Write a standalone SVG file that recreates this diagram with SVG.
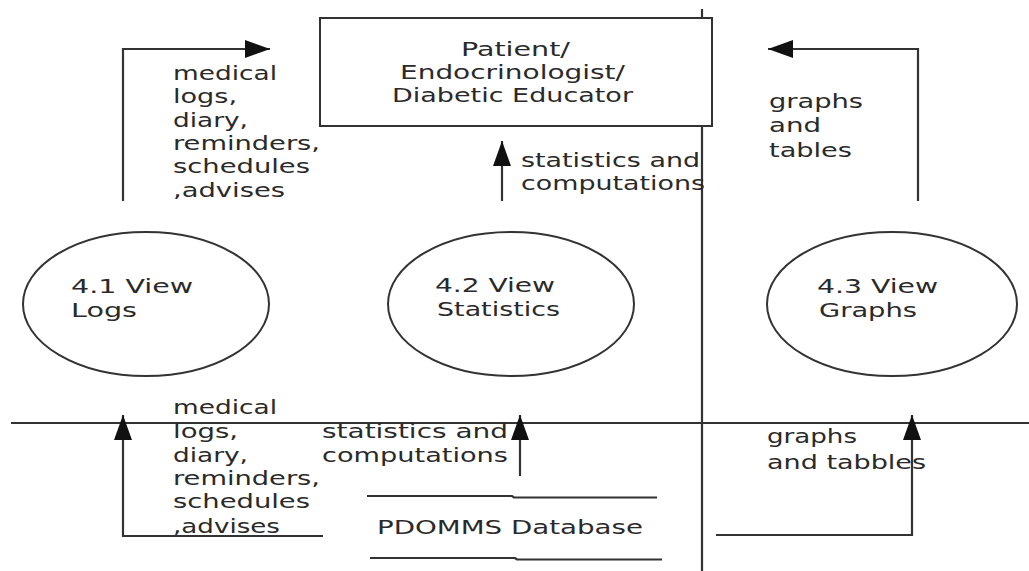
<svg xmlns="http://www.w3.org/2000/svg" width="1029" height="571" viewBox="0 0 1029 571">
<style>
.ln{fill:none;stroke:#333;stroke-width:2.2}
.nd{fill:#fff;stroke:#333;stroke-width:2}
text{font-family:"DejaVu Sans","Verdana",sans-serif;font-size:20px;fill:#2a2a2a}
</style>
<defs>
<marker id="ah" markerUnits="userSpaceOnUse" markerWidth="26" markerHeight="20" refX="25" refY="10" orient="auto">
<path d="M0,1 L25,10 L0,19 z" fill="#111"/>
</marker>
</defs>
<rect width="1029" height="571" fill="#fff"/>
<g id="boundaries">
<line class="ln" x1="702" y1="9" x2="702" y2="571"/>
<line class="ln" x1="11" y1="423" x2="1029" y2="423"/>
</g>
<g id="entity">
<rect class="nd" x="320" y="18" width="392" height="108"/>
<text x="461" y="56" textLength="109" lengthAdjust="spacingAndGlyphs">Patient/</text>
<text x="400" y="79" textLength="225" lengthAdjust="spacingAndGlyphs">Endocrinologist/</text>
<text x="392" y="102" textLength="241" lengthAdjust="spacingAndGlyphs">Diabetic Educator</text>
</g>
<g id="p41">
<ellipse class="nd" cx="146" cy="304" rx="123" ry="72"/>
<text x="71" y="293" textLength="122" lengthAdjust="spacingAndGlyphs">4.1 View</text>
<text x="71" y="317" textLength="66" lengthAdjust="spacingAndGlyphs">Logs</text>
</g>
<g id="p42">
<ellipse class="nd" cx="511" cy="304" rx="123" ry="72"/>
<text x="435" y="292" textLength="120" lengthAdjust="spacingAndGlyphs">4.2 View</text>
<text x="437" y="316" textLength="123" lengthAdjust="spacingAndGlyphs">Statistics</text>
</g>
<g id="p43">
<ellipse class="nd" cx="892" cy="304" rx="125" ry="72"/>
<text x="817" y="293" textLength="121" lengthAdjust="spacingAndGlyphs">4.3 View</text>
<text x="819" y="317" textLength="98" lengthAdjust="spacingAndGlyphs">Graphs</text>
</g>
<g id="datastore">
<polyline class="ln" points="367,496 512,496 514,497.5 657,497.5"/>
<polyline class="ln" points="370,558 515,558 517,559.5 662,559.5"/>
<text x="377" y="534" textLength="266" lengthAdjust="spacingAndGlyphs">PDOMMS Database</text>
</g>
<g id="connectors">
<polyline class="ln" points="123,201 123,49 270,49" marker-end="url(#ah)"/>
<line class="ln" x1="502" y1="201" x2="502" y2="141" marker-end="url(#ah)"/>
<polyline class="ln" points="918,201 918,49 768,49" marker-end="url(#ah)"/>
<polyline class="ln" points="323,536 123,536 123,415" marker-end="url(#ah)"/>
<line class="ln" x1="520" y1="476" x2="520" y2="415" marker-end="url(#ah)"/>
<polyline class="ln" points="716,535 912,535 912,415" marker-end="url(#ah)"/>
</g>
<g id="labels">
<text x="173" y="80" textLength="104" lengthAdjust="spacingAndGlyphs">medical</text>
<text x="173" y="103" textLength="64" lengthAdjust="spacingAndGlyphs">logs,</text>
<text x="173" y="127" textLength="75" lengthAdjust="spacingAndGlyphs">diary,</text>
<text x="173" y="150" textLength="147" lengthAdjust="spacingAndGlyphs">reminders,</text>
<text x="173" y="173" textLength="137" lengthAdjust="spacingAndGlyphs">schedules</text>
<text x="173" y="197" textLength="112" lengthAdjust="spacingAndGlyphs">,advises</text>
<text x="521" y="167" textLength="179" lengthAdjust="spacingAndGlyphs">statistics and</text>
<text x="521" y="190" textLength="184" lengthAdjust="spacingAndGlyphs">computations</text>
<text x="769" y="108" textLength="94" lengthAdjust="spacingAndGlyphs">graphs</text>
<text x="769" y="132" textLength="52" lengthAdjust="spacingAndGlyphs">and</text>
<text x="769" y="157" textLength="83" lengthAdjust="spacingAndGlyphs">tables</text>
<text x="173" y="414" textLength="104" lengthAdjust="spacingAndGlyphs">medical</text>
<text x="173" y="438" textLength="65" lengthAdjust="spacingAndGlyphs">logs,</text>
<text x="173" y="462" textLength="75" lengthAdjust="spacingAndGlyphs">diary,</text>
<text x="173" y="485" textLength="147" lengthAdjust="spacingAndGlyphs">reminders,</text>
<text x="173" y="508" textLength="137" lengthAdjust="spacingAndGlyphs">schedules</text>
<text x="173" y="533" textLength="107" lengthAdjust="spacingAndGlyphs">,advises</text>
<text x="322" y="438" textLength="186" lengthAdjust="spacingAndGlyphs">statistics and</text>
<text x="322" y="462" textLength="186" lengthAdjust="spacingAndGlyphs">computations</text>
<text x="767" y="443" textLength="90" lengthAdjust="spacingAndGlyphs">graphs</text>
<text x="767" y="469" textLength="159" lengthAdjust="spacingAndGlyphs">and tabbles</text>
</g>
</svg>
